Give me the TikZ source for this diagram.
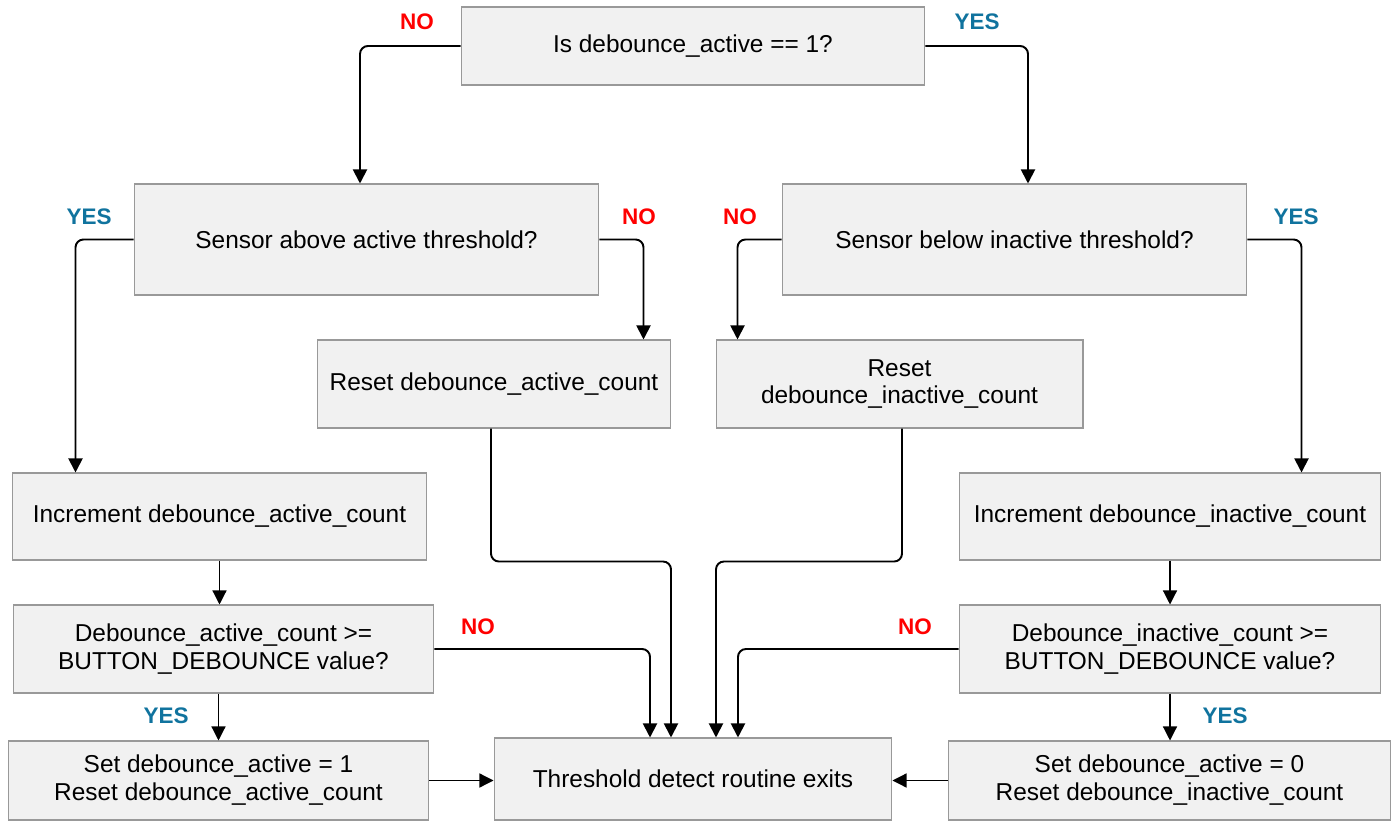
\documentclass[tikz,border=0pt]{standalone}
\usepackage{fontspec}
\setmainfont{Liberation Sans}
\usetikzlibrary{arrows.meta}
\definecolor{yescol}{HTML}{10739E}
\definecolor{nocol}{HTML}{FF0000}
\definecolor{boxfill}{HTML}{F1F1F1}
\definecolor{boxline}{HTML}{999999}

\begin{document}
\begin{tikzpicture}[x=0.02cm, y=-0.02cm,
    box/.style={
        draw=boxline,
        fill=boxfill,
        line width=0.6pt,
        inner sep=0pt,
        align=center,
        font=\fontsize{13.9}{15.9}\selectfont
    },
    flow/.style={
        draw,
        line width=1.1pt,
        rounded corners=4.5pt,
        -{Triangle[width=8pt,length=8pt]}
    },
    short/.style={
        flow,
        line width=0.7pt
    },
    nolabel/.style={
        text=nocol,
        font=\fontsize{12.8}{14}\selectfont\bfseries
    },
    yeslabel/.style={
        nolabel,
        text=yescol
    }
]
\useasboundingbox (0,0) rectangle (1397,821);

%%%%%%%%%%%%%%%%%%%%%%%%
% Boxes
%%%%%%%%%%%%%%%%%%%%%%%%

% --- Top decision ---
\node[box, minimum width=9.28cm, minimum height=1.56cm] (top) at (693,46) {Is debounce\_active == 1?};

% --- Threshold decisions ---
\node[box, minimum width=9.3cm, minimum height=2.22cm] (above) at (366.5,239.5) {Sensor above active threshold?};
\node[box, minimum width=9.3cm, minimum height=2.22cm] (below) at (1014.5,239.5) {Sensor below inactive threshold?};

% --- Resets ---
\node[box, minimum width=7.08cm, minimum height=1.76cm] (resetA) at (494,384) {Reset debounce\_active\_count};
\node[box, minimum width=7.34cm, minimum height=1.76cm] (resetI) at (899.5,384) {Reset\\debounce\_inactive\_count};

% --- Increments ---
\node[box, minimum width=8.3cm, minimum height=1.74cm] (incA) at (219.5,516.5) {Increment debounce\_active\_count};
\node[box, minimum width=8.44cm, minimum height=1.74cm] (incI) at (1170,516.5) {Increment debounce\_inactive\_count};

% --- Count checks ---
\node[box, minimum width=8.42cm, minimum height=1.76cm] (debA) at (223.5,649) {Debounce\_active\_count >=\\BUTTON\_DEBOUNCE value?};
\node[box, minimum width=8.44cm, minimum height=1.76cm] (debI) at (1170,649) {Debounce\_inactive\_count >=\\BUTTON\_DEBOUNCE value?};

% --- Set state ---
\node[box, minimum width=8.42cm, minimum height=1.58cm] (setA) at (218.5,780.5) {Set debounce\_active = 1\\Reset debounce\_active\_count};
\node[box, minimum width=8.86cm, minimum height=1.58cm] (setI) at (1169.5,780.5) {Set debounce\_active = 0\\Reset debounce\_inactive\_count};

% --- Exit ---
\node[box, minimum width=7.96cm, minimum height=1.64cm] (thr) at (693,779) {Threshold detect routine exits};

%%%%%%%%%%%%%%%%%%%%%%%%
% Labels
%%%%%%%%%%%%%%%%%%%%%%%%

\node[nolabel] (no1) at (417,22) {NO};
\node[yeslabel] (yes1) at (977,22) {YES};
\node[yeslabel] (yes2) at (89,217) {YES};
\node[nolabel] (no2) at (639,217) {NO};
\node[nolabel] (no3) at (740,217) {NO};
\node[yeslabel] (yes3) at (1296,217) {YES};
\node[nolabel] (no4) at (478,627) {NO};
\node[nolabel] (no5) at (915,627) {NO};
\node[yeslabel] (yes4) at (166,716) {YES};
\node[yeslabel] (yes5) at (1225,716) {YES};

%%%%%%%%%%%%%%%%%%%%%%%%
% Connectors
%%%%%%%%%%%%%%%%%%%%%%%%

% --- From the top ---
\draw[flow] (top.west) -| ([xshift=-0.13cm]above.north);
\draw[flow] (top.east) -| ([xshift=0.27cm]below.north);

% --- From the threshold decisions ---
\draw[flow] (above.west) -| ([xshift=1.28cm]incA.north west);
\draw[flow] (above.east) -| ([xshift=-0.56cm]resetA.north east);
\draw[flow] (below.west) -| ([xshift=0.44cm]resetI.north west);
\draw[flow] (below.east) -| ([xshift=-1.6cm]incI.north east);

% --- Increment to check ---
\draw[short] (incA.south) -- (incA.south |- debA.north);
\draw[short] (incI.south) -- (incI.south |- debI.north);

% --- Check YES ---
\draw[short] (setA.north |- debA.south) -- (setA.north);
\draw[short] (debI.south) -- (debI.south |- setI.north);

% --- Into the exit ---
\draw[flow] (debA.east) -| ([xshift=-0.86cm]thr.north);
\draw[flow] ([xshift=-0.06cm]resetA.south) -- ++(0,133) -| ([xshift=-0.44cm]thr.north);
\draw[flow] ([xshift=0.05cm]resetI.south) -- ++(0,133) -| ([xshift=0.46cm]thr.north);
\draw[flow] (debI.west) -| ([xshift=0.9cm]thr.north);
\draw[short] (setA.east) -- (thr.west |- setA.east);
\draw[short] (setI.west) -- (thr.east |- setI.west);

\end{tikzpicture}
\end{document}
